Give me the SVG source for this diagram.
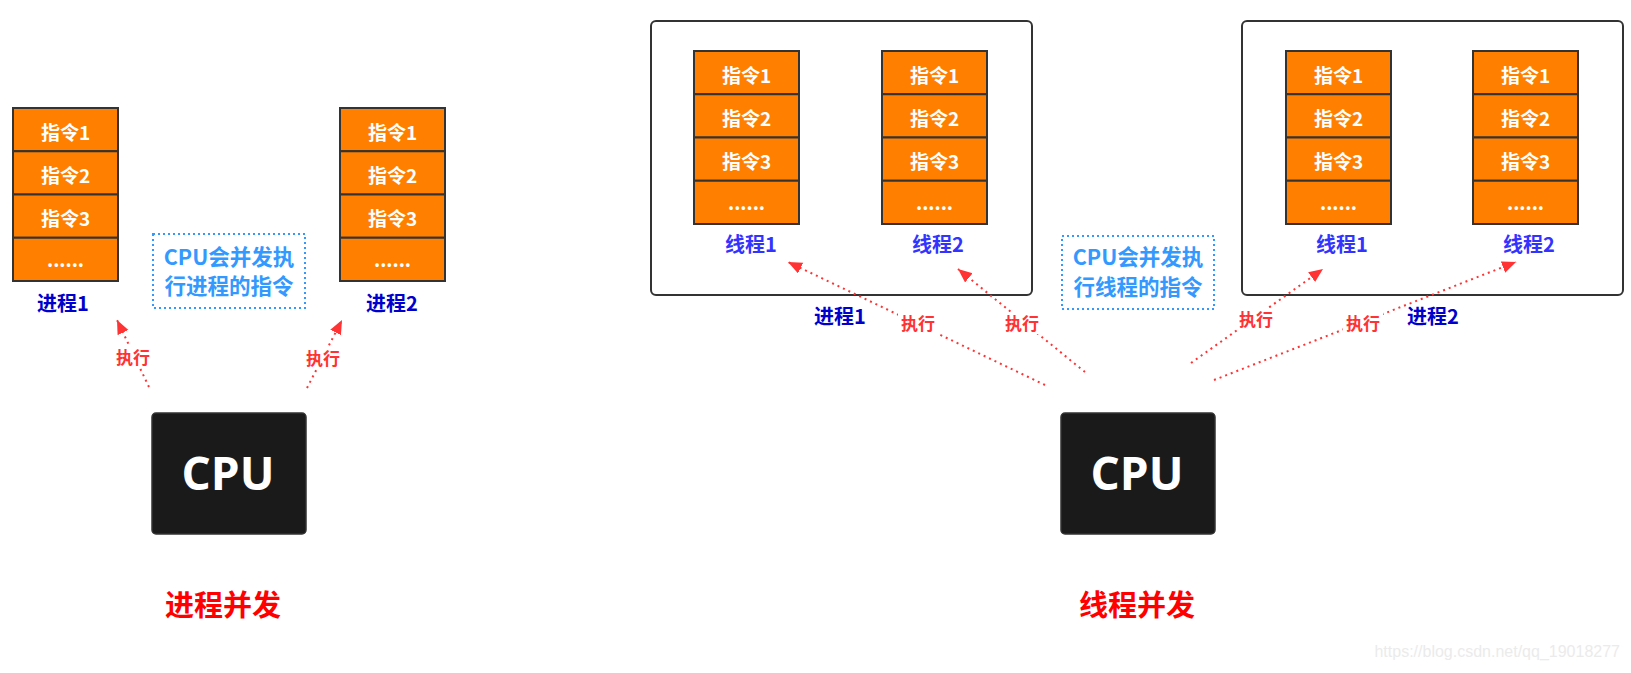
<svg xmlns="http://www.w3.org/2000/svg" width="1631" height="673" viewBox="0 0 1631 673">
<defs>
<style>
.cjk{font-family:"Noto Sans CJK SC","Microsoft YaHei",sans-serif;font-weight:bold;text-anchor:middle}
.cell{fill:#ff8000;stroke:#333;stroke-width:2}
.ct{fill:#fff;font-size:19px}
.proc{fill:#0000cc;font-size:20px}
.thr{fill:#3333ff;font-size:20px}
.note{fill:#3399ff;font-size:21.5px}
.nbox{fill:none;stroke:#3399ff;stroke-width:2;stroke-dasharray:2 3}
.pbox{fill:#fff;stroke:#333;stroke-width:2}
.cpu{fill:#1a1a1a;stroke:#333;stroke-width:1.5}
.cput{font-family:"Open Sans","Noto Sans",sans-serif;font-weight:bold;font-size:46px;fill:#fff;text-anchor:middle}
.title{fill:#ff0000;font-size:29px}
.exe{fill:#ff3333;font-size:17px}
.conn{fill:none;stroke:#ff3333;stroke-width:2;stroke-dasharray:2 4;marker-end:url(#ah)}
.lbg{fill:#fff}
</style>
<marker id="ah" markerUnits="userSpaceOnUse" markerWidth="16" markerHeight="14" refX="14" refY="6" orient="auto">
<path d="M0,0 L14,6 L0,12 Z" fill="#ff3333"/>
</marker>
<g id="stack">
<rect class="cell" x="0" y="0" width="105" height="43.25"/>
<rect class="cell" x="0" y="43.25" width="105" height="43.25"/>
<rect class="cell" x="0" y="86.5" width="105" height="43.25"/>
<rect class="cell" x="0" y="129.75" width="105" height="43.25"/>
<text class="cjk ct" x="52.5" y="31.5">指令1</text>
<text class="cjk ct" x="52.5" y="74.8">指令2</text>
<text class="cjk ct" x="52.5" y="118">指令3</text>
<text class="cjk ct" x="52.5" y="159">......</text>
</g>
</defs>
<rect width="1631" height="673" fill="#fff"/>

<!-- Left: process concurrency -->
<g id="proc1-left"><use href="#stack" x="13" y="108"/><text class="cjk proc" x="63" y="310.5">进程1</text></g>
<g id="proc2-left"><use href="#stack" x="340" y="108"/><text class="cjk proc" x="392" y="310.5">进程2</text></g>
<g id="note-left"><rect class="nbox" x="153" y="234" width="152" height="74"/><text class="cjk note" x="229" y="264.5">CPU会并发执</text><text class="cjk note" x="229" y="294">行进程的指令</text></g>
<g id="cpu-left"><rect class="cpu" x="152" y="413" width="154" height="121" rx="4"/><text class="cput" x="228" y="490">CPU</text></g>
<g id="title-left"><text class="cjk title" x="223" y="616">进程并发</text></g>

<!-- Right: thread concurrency -->
<g id="proc1-right"><rect class="pbox" x="651" y="21" width="381" height="274" rx="5"/><text class="cjk proc" x="840" y="323.5">进程1</text></g>
<g id="thread1-p1"><use href="#stack" x="694" y="51"/><text class="cjk thr" x="751" y="252">线程1</text></g>
<g id="thread2-p1"><use href="#stack" x="882" y="51"/><text class="cjk thr" x="938" y="252">线程2</text></g>
<g id="proc2-right"><rect class="pbox" x="1242" y="21" width="381" height="274" rx="5"/><text class="cjk proc" x="1433" y="323.5">进程2</text></g>
<g id="thread1-p2"><use href="#stack" x="1286" y="51"/><text class="cjk thr" x="1342" y="252">线程1</text></g>
<g id="thread2-p2"><use href="#stack" x="1473" y="51"/><text class="cjk thr" x="1529" y="252">线程2</text></g>
<g id="note-right"><rect class="nbox" x="1062" y="236" width="152" height="73"/><text class="cjk note" x="1138" y="265">CPU会并发执</text><text class="cjk note" x="1138" y="295">行线程的指令</text></g>
<g id="cpu-right"><rect class="cpu" x="1061" y="413" width="154" height="121" rx="4"/><text class="cput" x="1137" y="490">CPU</text></g>
<g id="title-right"><text class="cjk title" x="1137" y="616">线程并发</text></g>

<g id="connectors">
<path class="conn" d="M149,387 L117,320"/>
<path class="conn" d="M307,388 L342,320"/>
<path class="conn" d="M1045,385 L788,262"/>
<path class="conn" d="M1085,372 L958,269"/>
<path class="conn" d="M1191,363 L1323,269"/>
<path class="conn" d="M1214,380 L1516,262"/>
<rect class="lbg" x="113" y="346" width="40" height="22"/><text class="cjk exe" x="133" y="364">执行</text>
<rect class="lbg" x="303" y="347" width="40" height="22"/><text class="cjk exe" x="323" y="365">执行</text>
<rect class="lbg" x="898" y="312" width="40" height="22"/><text class="cjk exe" x="918" y="330">执行</text>
<rect class="lbg" x="1002" y="312" width="40" height="22"/><text class="cjk exe" x="1022" y="330">执行</text>
<rect class="lbg" x="1236" y="308" width="40" height="22"/><text class="cjk exe" x="1256" y="326">执行</text>
<rect class="lbg" x="1343" y="312" width="40" height="22"/><text class="cjk exe" x="1363" y="330">执行</text>
</g>

<text x="1620" y="657" font-family="Liberation Sans,Arial,sans-serif" font-size="16" fill="#ebebeb" text-anchor="end">https://blog.csdn.net/qq_19018277</text>
</svg>
